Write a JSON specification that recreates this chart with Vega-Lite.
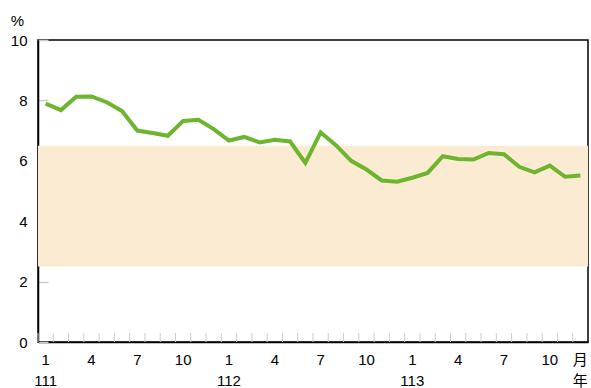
{
  "$schema": "https://vega.github.io/schema/vega-lite/v6.json",
  "width": 550,
  "height": 302,
  "autosize": {"type": "none"},
  "padding": {"left": 38, "top": 40, "right": 3, "bottom": 46},
  "background": "#ffffff",
  "config": {
    "view": {"stroke": "#000000", "strokeWidth": 1.5},
    "font": "Liberation Sans, Arial, Noto Sans CJK TC",
    "axis": {
      "labelFont": "Liberation Sans, Noto Sans CJK TC",
      "labelFontSize": 15,
      "labelColor": "#000000",
      "domainColor": "#000000",
      "domainWidth": 1.5,
      "grid": false
    }
  },
  "datasets": {
    "rate": [
      {"ym": "111-01", "year": 111, "month": 1, "value": 7.89},
      {"ym": "111-02", "year": 111, "month": 2, "value": 7.68},
      {"ym": "111-03", "year": 111, "month": 3, "value": 8.12},
      {"ym": "111-04", "year": 111, "month": 4, "value": 8.13},
      {"ym": "111-05", "year": 111, "month": 5, "value": 7.94},
      {"ym": "111-06", "year": 111, "month": 6, "value": 7.65},
      {"ym": "111-07", "year": 111, "month": 7, "value": 7.0},
      {"ym": "111-08", "year": 111, "month": 8, "value": 6.92},
      {"ym": "111-09", "year": 111, "month": 9, "value": 6.83},
      {"ym": "111-10", "year": 111, "month": 10, "value": 7.32},
      {"ym": "111-11", "year": 111, "month": 11, "value": 7.36},
      {"ym": "111-12", "year": 111, "month": 12, "value": 7.05},
      {"ym": "112-01", "year": 112, "month": 1, "value": 6.67},
      {"ym": "112-02", "year": 112, "month": 2, "value": 6.79},
      {"ym": "112-03", "year": 112, "month": 3, "value": 6.61},
      {"ym": "112-04", "year": 112, "month": 4, "value": 6.7},
      {"ym": "112-05", "year": 112, "month": 5, "value": 6.64},
      {"ym": "112-06", "year": 112, "month": 6, "value": 5.93},
      {"ym": "112-07", "year": 112, "month": 7, "value": 6.94},
      {"ym": "112-08", "year": 112, "month": 8, "value": 6.52},
      {"ym": "112-09", "year": 112, "month": 9, "value": 6.0},
      {"ym": "112-10", "year": 112, "month": 10, "value": 5.71},
      {"ym": "112-11", "year": 112, "month": 11, "value": 5.35},
      {"ym": "112-12", "year": 112, "month": 12, "value": 5.31},
      {"ym": "113-01", "year": 113, "month": 1, "value": 5.44},
      {"ym": "113-02", "year": 113, "month": 2, "value": 5.6},
      {"ym": "113-03", "year": 113, "month": 3, "value": 6.15},
      {"ym": "113-04", "year": 113, "month": 4, "value": 6.06},
      {"ym": "113-05", "year": 113, "month": 5, "value": 6.04},
      {"ym": "113-06", "year": 113, "month": 6, "value": 6.26},
      {"ym": "113-07", "year": 113, "month": 7, "value": 6.22},
      {"ym": "113-08", "year": 113, "month": 8, "value": 5.8},
      {"ym": "113-09", "year": 113, "month": 9, "value": 5.62},
      {"ym": "113-10", "year": 113, "month": 10, "value": 5.84},
      {"ym": "113-11", "year": 113, "month": 11, "value": 5.47},
      {"ym": "113-12", "year": 113, "month": 12, "value": 5.51}
    ],
    "band": [
      {"low": 2.5, "high": 6.5}
    ]
  },
  "layer": [
    {
      "data": {"name": "band"},
      "mark": {"type": "rect", "color": "#fcebd3"},
      "encoding": {
        "y": {
          "field": "low",
          "type": "quantitative",
          "scale": {"domain": [0, 10], "nice": false},
          "axis": {
            "values": [0, 2, 4, 6, 8, 10],
            "tickSize": -10,
            "tickColor": "#cccccc",
            "tickWidth": 1.5,
            "labelPadding": 21,
            "title": "%",
            "titleAngle": 0,
            "titleFontSize": 15,
            "titleFontWeight": "normal",
            "titleFont": "Liberation Sans",
            "titleAlign": "center",
            "titleBaseline": "alphabetic",
            "titleX": -21,
            "titleY": -15
          }
        },
        "y2": {"field": "high"}
      }
    },
    {
      "data": {"name": "rate"},
      "mark": {"type": "rule", "color": "#cccccc", "strokeWidth": 1},
      "encoding": {
        "x": {
          "field": "ym",
          "type": "ordinal",
          "sort": null,
          "bandPosition": 0,
          "scale": {"type": "band", "paddingInner": 0, "paddingOuter": 0},
          "axis": {
            "orient": "bottom",
            "title": null,
            "values": ["111-01", "111-04", "111-07", "111-10", "112-01", "112-04", "112-07", "112-10", "113-01", "113-04", "113-07", "113-10", "113-12"],
            "labelExpr": "datum.value == '113-12' ? ['月', '年'] : (substring(datum.value, 4, 6) == '01' ? ['1', substring(datum.value, 0, 3)] : '' + toNumber(substring(datum.value, 4, 6)))",
            "labelAngle": 0,
            "labelAlign": "center",
            "labelBaseline": "top",
            "labelLineHeight": 21,
            "labelPadding": 10,
            "ticks": false,
            "bandPosition": 0.5
          }
        },
        "y": {"datum": 0},
        "y2": {"datum": 0.3}
      }
    },
    {
      "data": {"name": "rate"},
      "mark": {"type": "line", "color": "#6db52d", "strokeWidth": 4},
      "encoding": {
        "x": {"field": "ym", "type": "ordinal", "sort": null},
        "y": {"field": "value", "type": "quantitative"}
      }
    }
  ]
}
